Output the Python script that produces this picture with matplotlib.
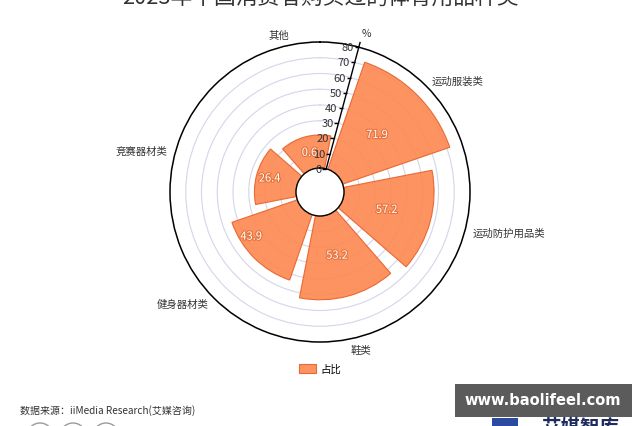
import numpy as np
import matplotlib
matplotlib.use("Agg")
import matplotlib.pyplot as plt
from matplotlib import patheffects
from matplotlib.patches import Ellipse, Rectangle

plt.rcParams['font.family'] = ['Noto Sans CJK SC', 'DejaVu Sans']

# =========================
# DATA
# =========================
categories = ["运动服装类", "运动防护用品类", "鞋类", "健身器材类", "竞赛器材类", "其他"]
share_labels = ["71.9", "57.2", "53.2", "43.9", "26.4", "0.6"]
# bar lengths as drawn in the source (the 其他 bar reaches ~21 although labelled 0.6)
bar_values = [71.9, 57.2, 53.2, 43.9, 26.4, 21]
r_ticks = [0, 10, 20, 30, 40, 50, 60, 70, 80]

# =========================
# LAYOUT
# =========================
W, H = 640, 427
cx, cy = 320, 193          # centre of the polar plot (px)
R_out, R_in = 150, 24      # outer / hole radius (px)
k = (R_out - R_in) / 80.0  # px per unit

fig = plt.figure(figsize=(W / 100, H / 100), dpi=100)
ax = fig.add_axes([(cx - R_out) / W, (H - cy - R_out) / H, 2 * R_out / W, 2 * R_out / H],
                  projection="polar")
ax.set_theta_zero_location("N")
ax.set_theta_direction(-1)
ax.set_ylim(0, 80)
ax.set_rorigin(-R_in / k)

n = len(categories)
step = 360 / n
centers = np.deg2rad(45 + step * np.arange(n))
bounds = np.deg2rad(15 + step * np.arange(n))
axis_ang = np.deg2rad(15)

# grid
ax.set_yticks(r_ticks[1:-1])
ax.set_yticklabels([])
ax.yaxis.grid(True, color="#d3d6e8", linewidth=0.8)
ax.xaxis.grid(False)
ax.set_xticks(bounds)
ax.set_xticklabels([])
ax.tick_params(axis="x", length=5, direction="out", color="black", width=0.8)
ax.tick_params(axis="y", length=0)
ax.spines["polar"].set_color("black")
ax.spines["polar"].set_linewidth(1.1)
ax.spines["inner"].set_color("black")
ax.spines["inner"].set_linewidth(1.0)

# bars
bars = ax.bar(centers, bar_values, width=np.deg2rad(52), color="#FD8A52",
              edgecolor="#E8612C", linewidth=0.8, alpha=0.92, zorder=2, label="占比")

# value labels (placement as in the source)
lab_ang = np.deg2rad([45, 105, 165, 237, 285, 345])
lab_r = [v / 2 for v in bar_values]
lab_r[3] = 36.8
lab_r[4] = 17.8
for ang, r, lab in zip(lab_ang, lab_r, share_labels):
    ax.text(ang, r, lab, color="white", fontsize=8, ha="center", va="center", zorder=4,
            path_effects=[patheffects.withStroke(linewidth=1.6, foreground="#E6733E")])

# radial axis line with ticks and labels
ax.plot([axis_ang, axis_ang], [0, 83], color="black", linewidth=1.0, clip_on=False, zorder=5)
for t in r_ticks:
    ax.plot([axis_ang], [t], marker=0, markersize=3, color="black", clip_on=False, zorder=5)
    ax.annotate(str(t), (axis_ang, t), xytext=(-5, 0), textcoords="offset pixels",
                ha="right", va="center", fontsize=8, color="#333333", zorder=6,
                annotation_clip=False)
ax.annotate("%", (axis_ang, 80), xytext=(8, 14), textcoords="offset pixels",
            ha="center", va="center", fontsize=7.5, color="#333333", annotation_clip=False)

# category labels
cat_ha = ["left", "left", "center", "right", "right", "center"]
cat_va = ["center", "center", "top", "center", "center", "bottom"]
for ang, c, ha, va in zip(centers, categories, cat_ha, cat_va):
    ax.text(ang, 85, c, ha=ha, va=va, fontsize=7.5, color="#333333", clip_on=False)

# title (cut off at top in the source)
fig.text(0.5, 1 + 2 / H, "2023年中国消费者购买过的体育用品种类", ha="center", va="center",
         fontsize=15.7, color="#333333")

# legend
fig.legend(handles=[bars], labels=["占比"], loc="center", bbox_to_anchor=(0.5, 1 - 370 / H),
           frameon=False, fontsize=7.5, handlelength=1.6, handleheight=0.9, handletextpad=0.4)

# source
fig.text(20 / W, 1 - 411 / H, "数据来源：iiMedia Research(艾媒咨询)", ha="left", va="center",
         fontsize=7.2, color="#333333")

# decorations at the bottom
for x0 in [40, 73, 106]:
    fig.patches.append(Ellipse((x0 / W, (H - 437) / H), 26 / W, 26 / H, transform=fig.transFigure,
                               fill=False, edgecolor="#9a9a9a", linewidth=1.0))
fig.patches.append(Rectangle((455 / W, (H - 418) / H), 177 / W, 33 / H, transform=fig.transFigure,
                             facecolor="#5b5b5b", edgecolor="none"))
fig.text(543 / W, 1 - 401 / H, "www.baolifeel.com", ha="center", va="center",
         fontsize=10.5, color="white", fontweight="bold", family="DejaVu Sans")
fig.patches.append(Rectangle((492 / W, 0), 26 / W, 8 / H, transform=fig.transFigure,
                             facecolor="#2a4ba0", edgecolor="none"))
fig.text(580 / W, 1 - 428 / H, "艾媒智库", ha="center", va="center",
         fontsize=14, color="#1f2d5c", fontweight="bold")

plt.savefig("out.png", dpi=100)
